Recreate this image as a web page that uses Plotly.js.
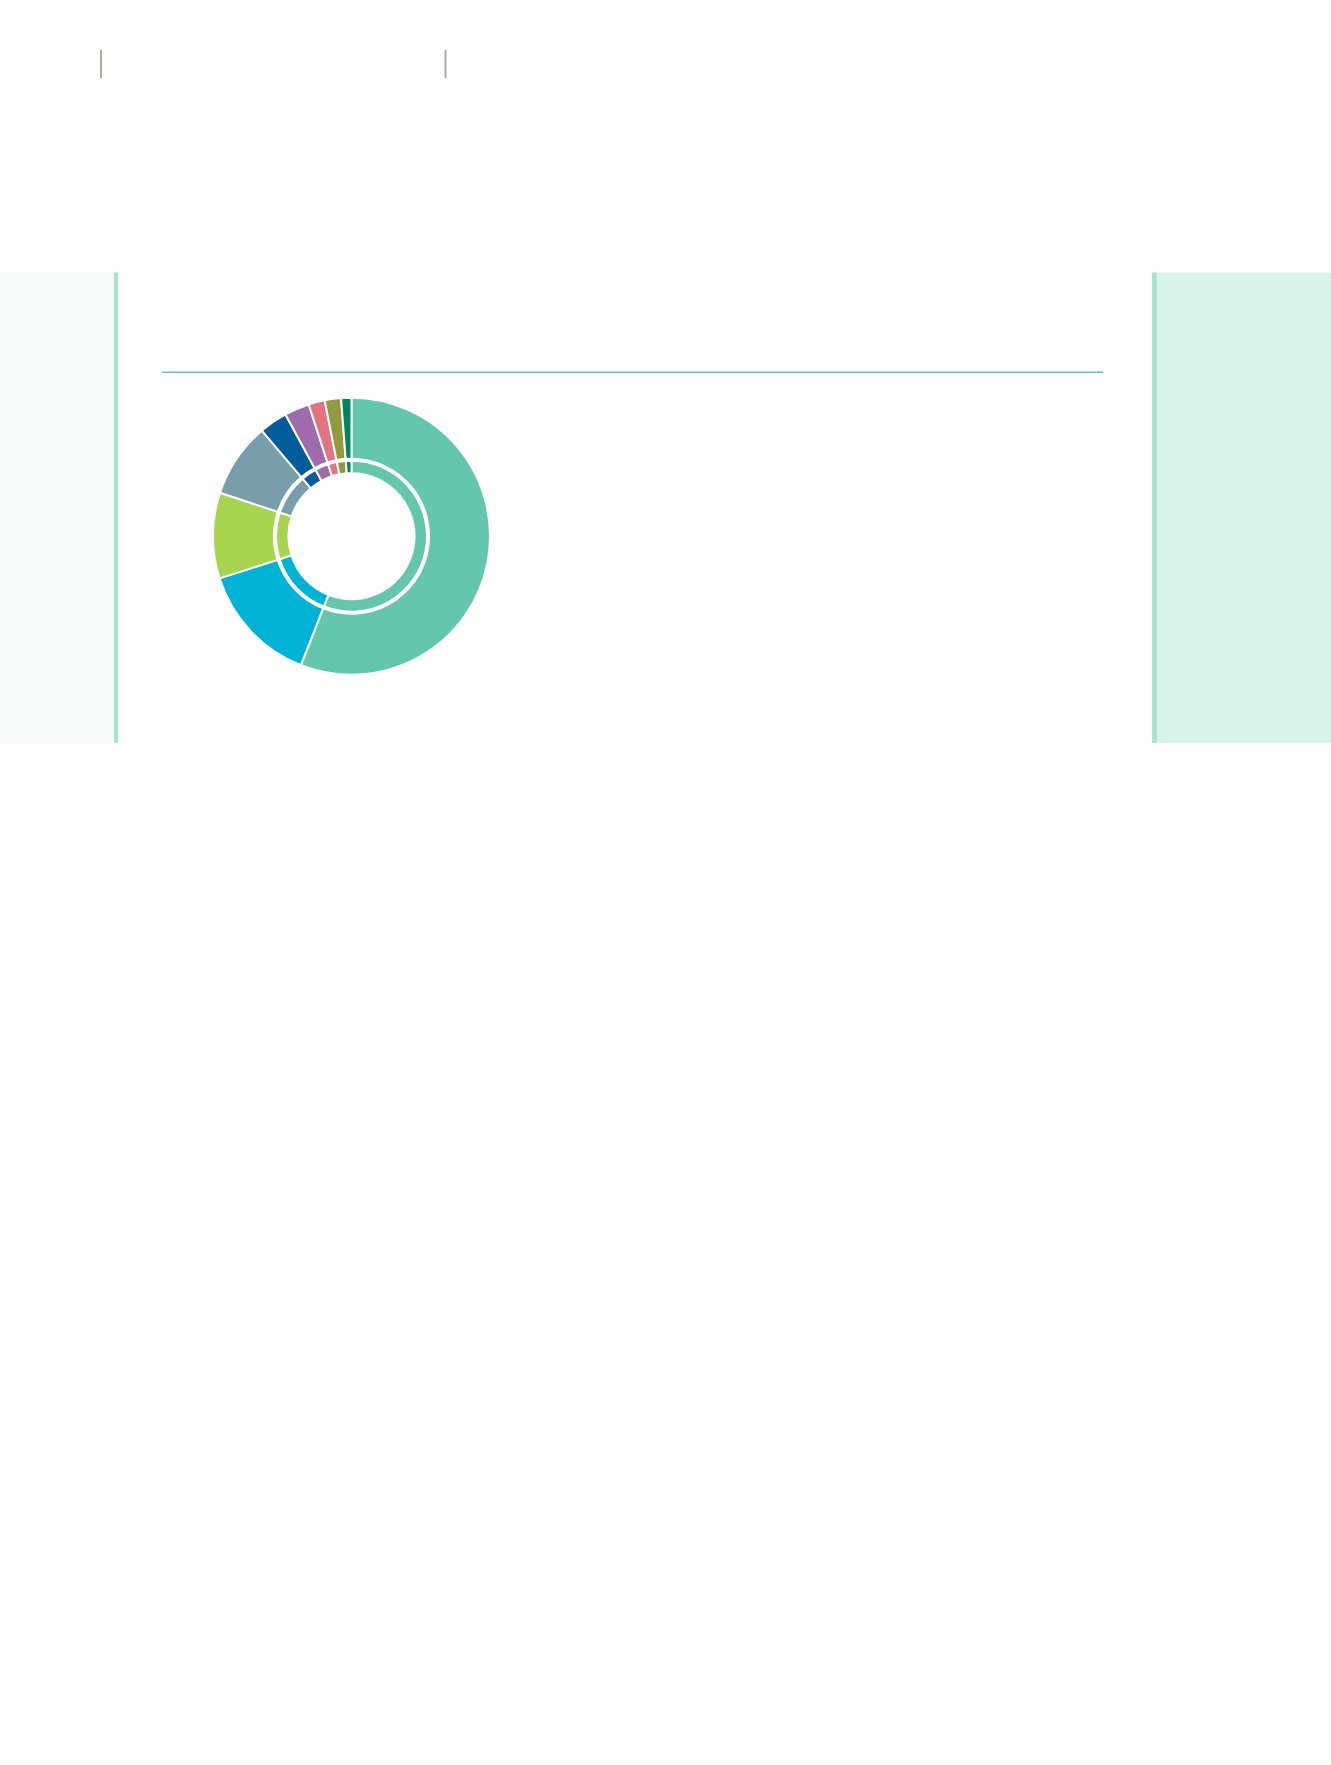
<!DOCTYPE html>
<html>
<head>
<meta charset="utf-8">
<script src="https://cdn.plot.ly/plotly-3.0.1.min.js"></script>
<style>
  html, body { margin: 0; padding: 0; background: #fefefe; }
  #chart { width: 1331px; height: 1765px; }
</style>
</head>
<body>
<div id="chart"></div>
<script>
const categories = ["A", "B", "C", "D", "E", "F", "G", "H", "I"]
const outerValues = [55.9, 14.1, 10.0, 8.7, 3.3, 2.9, 1.9, 1.9, 1.2]
const innerValues = [55.9, 14.1, 10.0, 8.7, 3.3, 2.9, 1.9, 1.9, 1.2]
const sliceColors = ["#65c6ae", "#00b2d4", "#a8d54f", "#789eab", "#005c9a",
                     "#9f6bac", "#e07480", "#929a40", "#00855f"]

const W = 1331, H = 1765

// pixel box -> paper domain
function domainFor(cx, cy, r) {
    return {
        x: [(cx - r) / W, (cx + r) / W],
        y: [1 - (cy + r) / H, 1 - (cy - r) / H]
    }
}

function pxRect(x0, y0, x1, y1, fill) {
    return {
        type: "rect", xref: "paper", yref: "paper",
        x0: x0 / W, x1: x1 / W, y0: 1 - y1 / H, y1: 1 - y0 / H,
        fillcolor: fill, line: { width: 0 }, layer: "below"
    }
}

function pxLine(x0, y0, x1, y1, color, width) {
    return {
        type: "line", xref: "paper", yref: "paper",
        x0: x0 / W, x1: x1 / W, y0: 1 - y0 / H, y1: 1 - y1 / H,
        line: { color: color, width: width }
    }
}

const cx = 351.5, cy = 536.2

const data = [
    {
        type: "pie",
        labels: categories,
        values: outerValues,
        sort: false,
        direction: "clockwise",
        rotation: 0,
        hole: 0.56,
        textinfo: "none",
        hoverinfo: "none",
        showlegend: false,
        domain: domainFor(cx, cy, 138.5),
        marker: { colors: sliceColors, line: { color: "#ffffff", width: 2 } }
    },
    {
        type: "pie",
        labels: categories,
        values: innerValues,
        sort: false,
        direction: "clockwise",
        rotation: 0,
        hole: 0.835,
        textinfo: "none",
        hoverinfo: "none",
        showlegend: false,
        domain: domainFor(cx, cy, 75.5),
        marker: { colors: sliceColors, line: { color: "#ffffff", width: 2 } }
    }
]

const layout = {
    width: W,
    height: H,
    margin: { l: 0, r: 0, t: 0, b: 0, pad: 0 },
    paper_bgcolor: "#fefefe",
    plot_bgcolor: "#fefefe",
    showlegend: false,
    shapes: [
        // side panels
        pxRect(0, 272.5, 114, 743, "#f6fdf9"),
        pxRect(114, 272.5, 118, 743, "#a8e2d0"),
        pxRect(1157, 272.5, 1331, 743, "#d8f3e8"),
        pxRect(1152, 272.5, 1157, 743, "#a8e2d0"),
        // rule under the (empty) title area
        pxLine(162, 372.3, 1103, 372.3, "#66c7ae", 1.5),
        // header ticks
        pxLine(101, 50, 101, 78, "#b5a898", 2),
        pxLine(445.5, 50, 445.5, 78, "#b5a898", 2)
    ]
}

const config = { displayModeBar: false, staticPlot: true }

Plotly.newPlot("chart", data, layout, config)
</script>
</body>
</html>
